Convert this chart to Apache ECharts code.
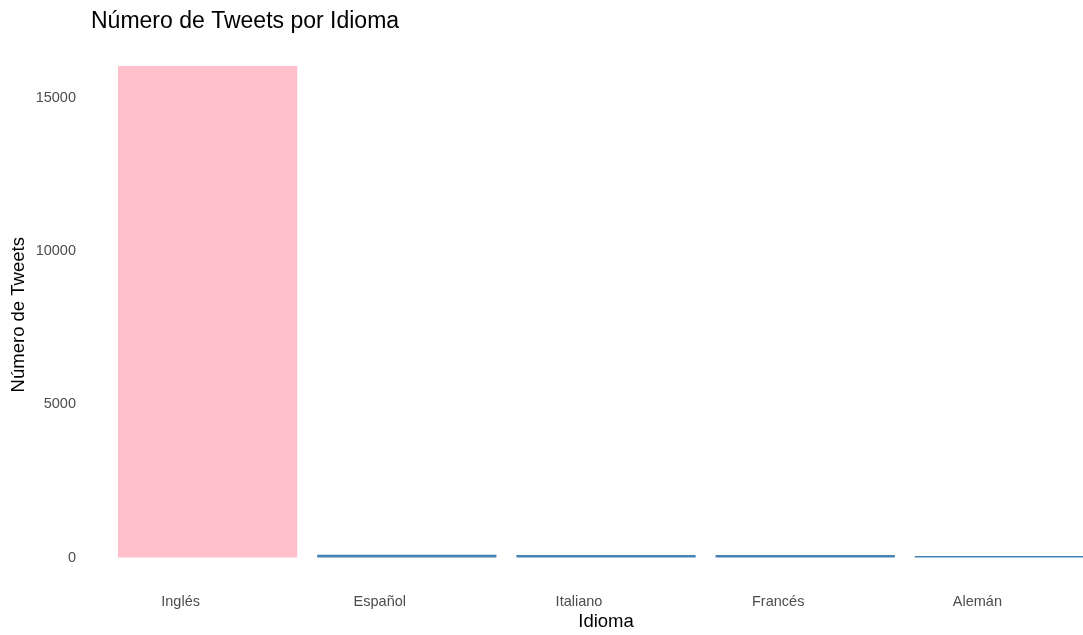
<!DOCTYPE html>
<html>
<head>
<meta charset="utf-8">
<script src="https://cdn.jsdelivr.net/npm/echarts@6/dist/echarts.min.js"></script>
<style>
  html, body { margin: 0; padding: 0; background: #fff; overflow: hidden; }
  #chart { width: 1083px; height: 635px; }
</style>
</head>
<body>
<div id="chart"></div>
<script>
// Tweets per language
const idiomas = ['Inglés', 'Español', 'Italiano', 'Francés', 'Alemán'];
const tweets = [16040, 88, 80, 80, 45];
const colores = ['#FFC0CB', '#4682B4', '#4682B4', '#4682B4', '#4682B4'];
const yTicks = [0, 5000, 10000, 15000];

const FONT = '"Liberation Sans", Arial, sans-serif';

const chart = echarts.init(document.getElementById('chart'), null, { renderer: 'canvas' });

chart.setOption({
  animation: false,
  backgroundColor: '#ffffff',
  title: {
    text: 'Número de Tweets por Idioma',
    left: 86,
    top: 5,
    textStyle: { fontFamily: FONT, fontSize: 23, fontWeight: 'normal', color: '#000' }
  },
  // the plot panel runs a little past the right edge of the canvas
  grid: {
    left: 108, top: 52, width: 996, bottom: 77.5,
    containLabel: false,
    outerBoundsMode: 'none'
  },
  xAxis: {
    type: 'category',
    data: idiomas,
    name: 'Idioma',
    nameLocation: 'middle',
    nameGap: 55,
    nameMoveOverlap: false,
    nameTextStyle: { fontFamily: FONT, fontSize: 18.5, color: '#000' },
    axisLine: { show: false },
    axisTick: { show: false },
    axisLabel: {
      margin: 37,
      fontFamily: FONT,
      fontSize: 14.5,
      color: '#4d4d4d',
      padding: [0, 54, 0, 0]
    },
    splitLine: { show: false }
  },
  yAxis: {
    type: 'value',
    min: 0,
    max: 16500,
    interval: 5000,
    name: 'Número de Tweets',
    nameLocation: 'middle',
    nameGap: 80,
    nameMoveOverlap: false,
    nameTextStyle: { fontFamily: FONT, fontSize: 18.5, color: '#000', padding: [0, 20, 0, 0] },
    axisLine: { show: false },
    axisTick: { show: false },
    splitLine: { show: false },
    axisLabel: {
      margin: 32,
      fontFamily: FONT,
      fontSize: 14.5,
      color: '#4d4d4d',
      showMaxLabel: false,
      formatter: v => (yTicks.includes(v) ? String(v) : '')
    }
  },
  series: [{
    type: 'bar',
    barWidth: '90%',
    data: tweets.map((v, i) => ({ value: v, itemStyle: { color: colores[i] } }))
  }]
});
</script>
</body>
</html>
